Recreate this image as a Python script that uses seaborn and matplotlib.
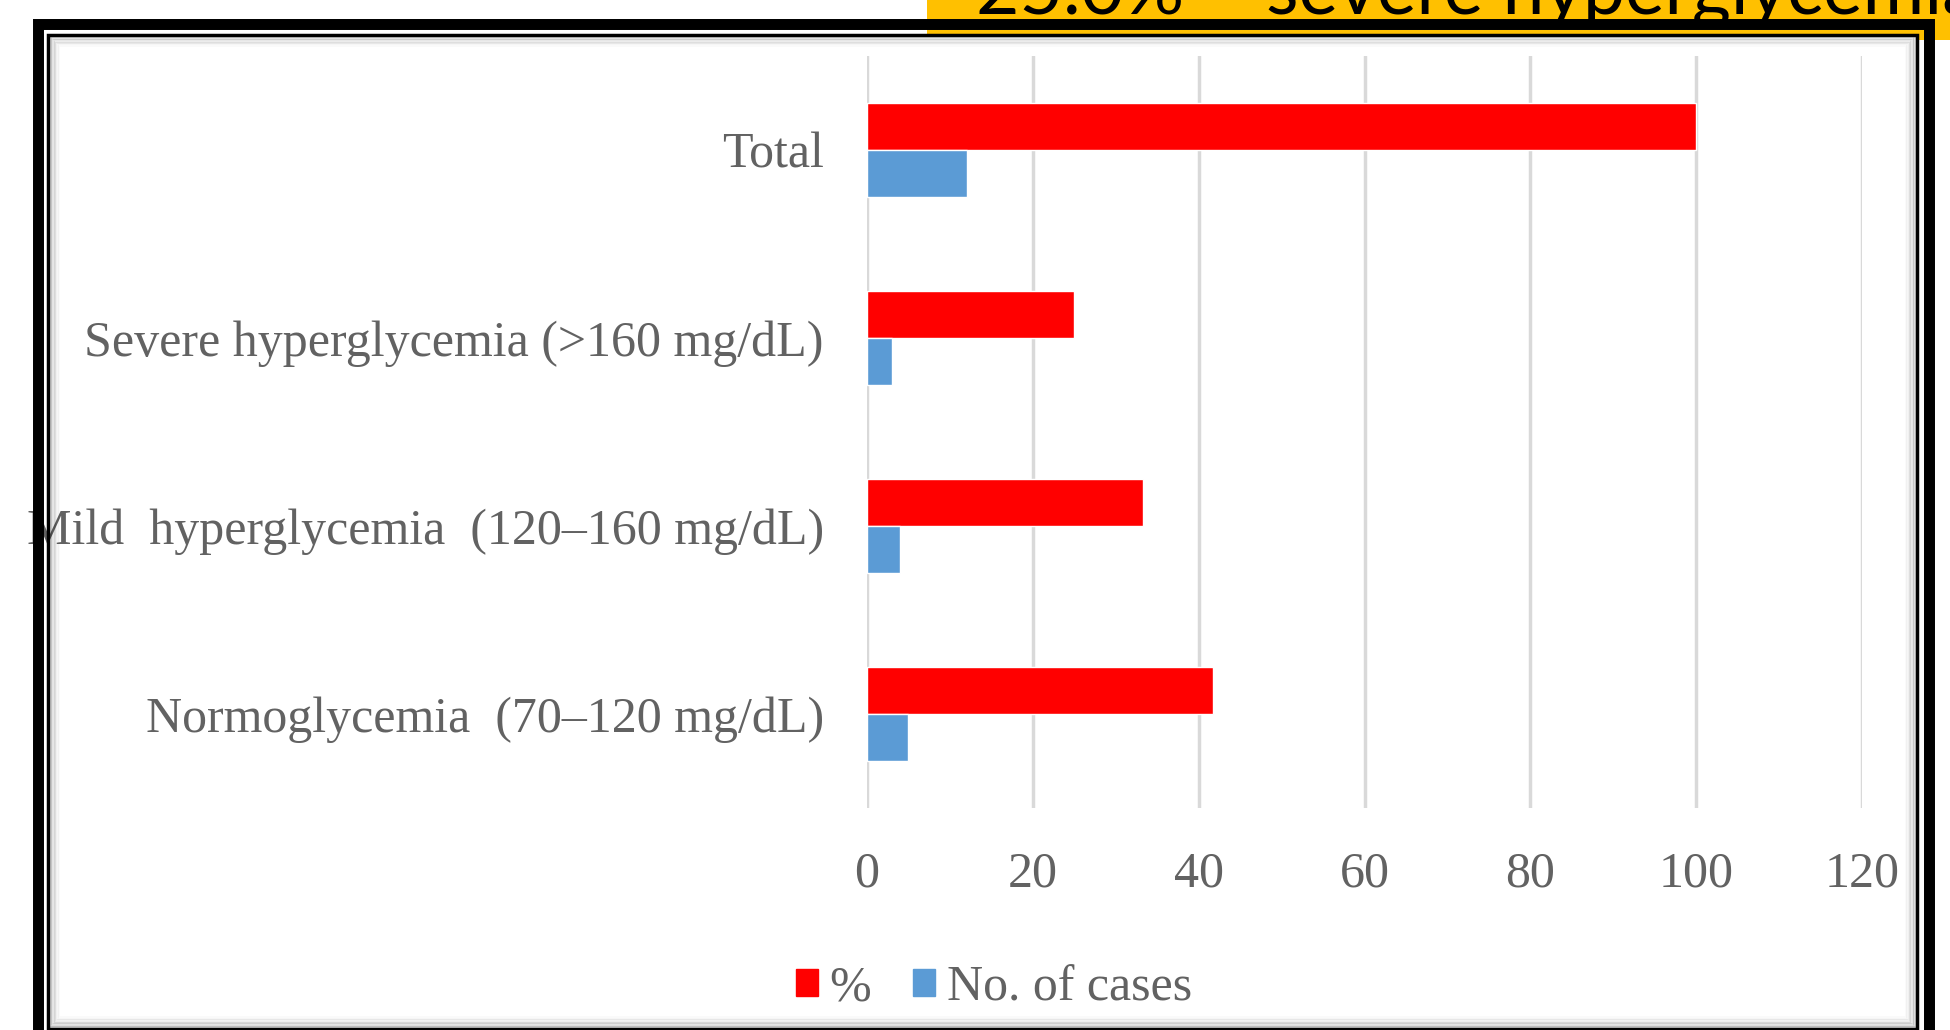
import matplotlib
matplotlib.use('Agg')
import matplotlib.pyplot as plt
import matplotlib.patches as mpatches
import pandas as pd
import seaborn as sns

categories = ['Total', 'Severe hyperglycemia (>160 mg/dL)',
              'Mild  hyperglycemia  (120–160 mg/dL)', 'Normoglycemia  (70–120 mg/dL)']
percent = [100, 25.0, 33.3, 41.7]
cases = [12, 3, 4, 5]
series = ['%', 'No. of cases']
colors = ['#FF0000', '#5B9BD5']
x_ticks = [0, 20, 40, 60, 80, 100, 120]
banner_text = '25.0% – severe hyperglycemia'

df = pd.DataFrame({
    'group': categories * 2,
    'series': [series[0]] * len(categories) + [series[1]] * len(categories),
    'value': percent + cases,
})

sns.set_style('white')
plt.rcParams['font.family'] = ['Liberation Serif', 'DejaVu Serif']

W, H = 1950, 1030
fig = plt.figure(figsize=(W / 100, H / 100), dpi=100)


def fx(px):
    return px / W


def fy(py):
    return 1 - py / H


def frame_rect(left, top, right, bottom, **kw):
    # rectangle given in pixel coords (y measured from the top)
    r = mpatches.Rectangle((fx(left), fy(bottom)), (right - left) / W, (bottom - top) / H,
                           transform=fig.transFigure, **kw)
    fig.patches.append(r)
    return r


# yellow banner behind the frame, with its (cut off) caption
frame_rect(927, -10, 1960, 40, facecolor='#FFC000', edgecolor='none', zorder=-3)
fig.text(fx(976), fy(14), banner_text, family=['Lato', 'DejaVu Sans'], fontsize=54,
         ha='left', va='baseline', color='#000000', zorder=-2.5)

# white chart area
frame_rect(48, 34.5, 1917, 1028.5, facecolor='white', edgecolor='none', zorder=-2)

# double black border + soft inner shadow
frame_rect(37.5, 24, 1928.5, 1045, facecolor='none', edgecolor='black', lw=7.9, zorder=10)
frame_rect(48, 34.5, 1917, 1028.5, facecolor='none', edgecolor='black', lw=2.5, zorder=10)
for i in range(1, 9):
    d = 1.4 * i
    frame_rect(48 + d, 34.5 + d, 1917 - d, 1028.5 - d, facecolor='none', edgecolor='black',
               lw=1.1, alpha=0.22 * (1 - i / 9), zorder=9)

ax = fig.add_axes([fx(867), fy(808), fx(1862) - fx(867), (808 - 56) / H])
sns.barplot(data=df, x='value', y='group', hue='series', order=categories, hue_order=series,
            palette=colors, saturation=1, width=0.5, orient='h', errorbar=None,
            legend=False, ax=ax, zorder=3)

ax.set_xlim(0, 120)
ax.set_xticks(x_ticks)
ax.set_ylim(len(categories) - 0.5, -0.5)
ax.grid(axis='x', color='#D9D9D9', lw=2.5)
ax.grid(axis='y', visible=False)
ax.set_axisbelow(True)
for s in ax.spines.values():
    s.set_visible(False)
ax.tick_params(length=0, pad=31, labelsize=36, labelcolor='#626262')
ax.set_xlabel('')
ax.set_ylabel('')
ax.patch.set_alpha(0)

handles = [mpatches.Patch(color=c) for c in colors]
fig.legend(handles, series, loc='center', bbox_to_anchor=(fx(994), fy(988)), ncol=2,
           frameon=False, fontsize=36, handlelength=0.44, handleheight=0.44,
           handletextpad=0.24, columnspacing=0.84, labelcolor='#626262')

fig.savefig('out.png', dpi=100)
